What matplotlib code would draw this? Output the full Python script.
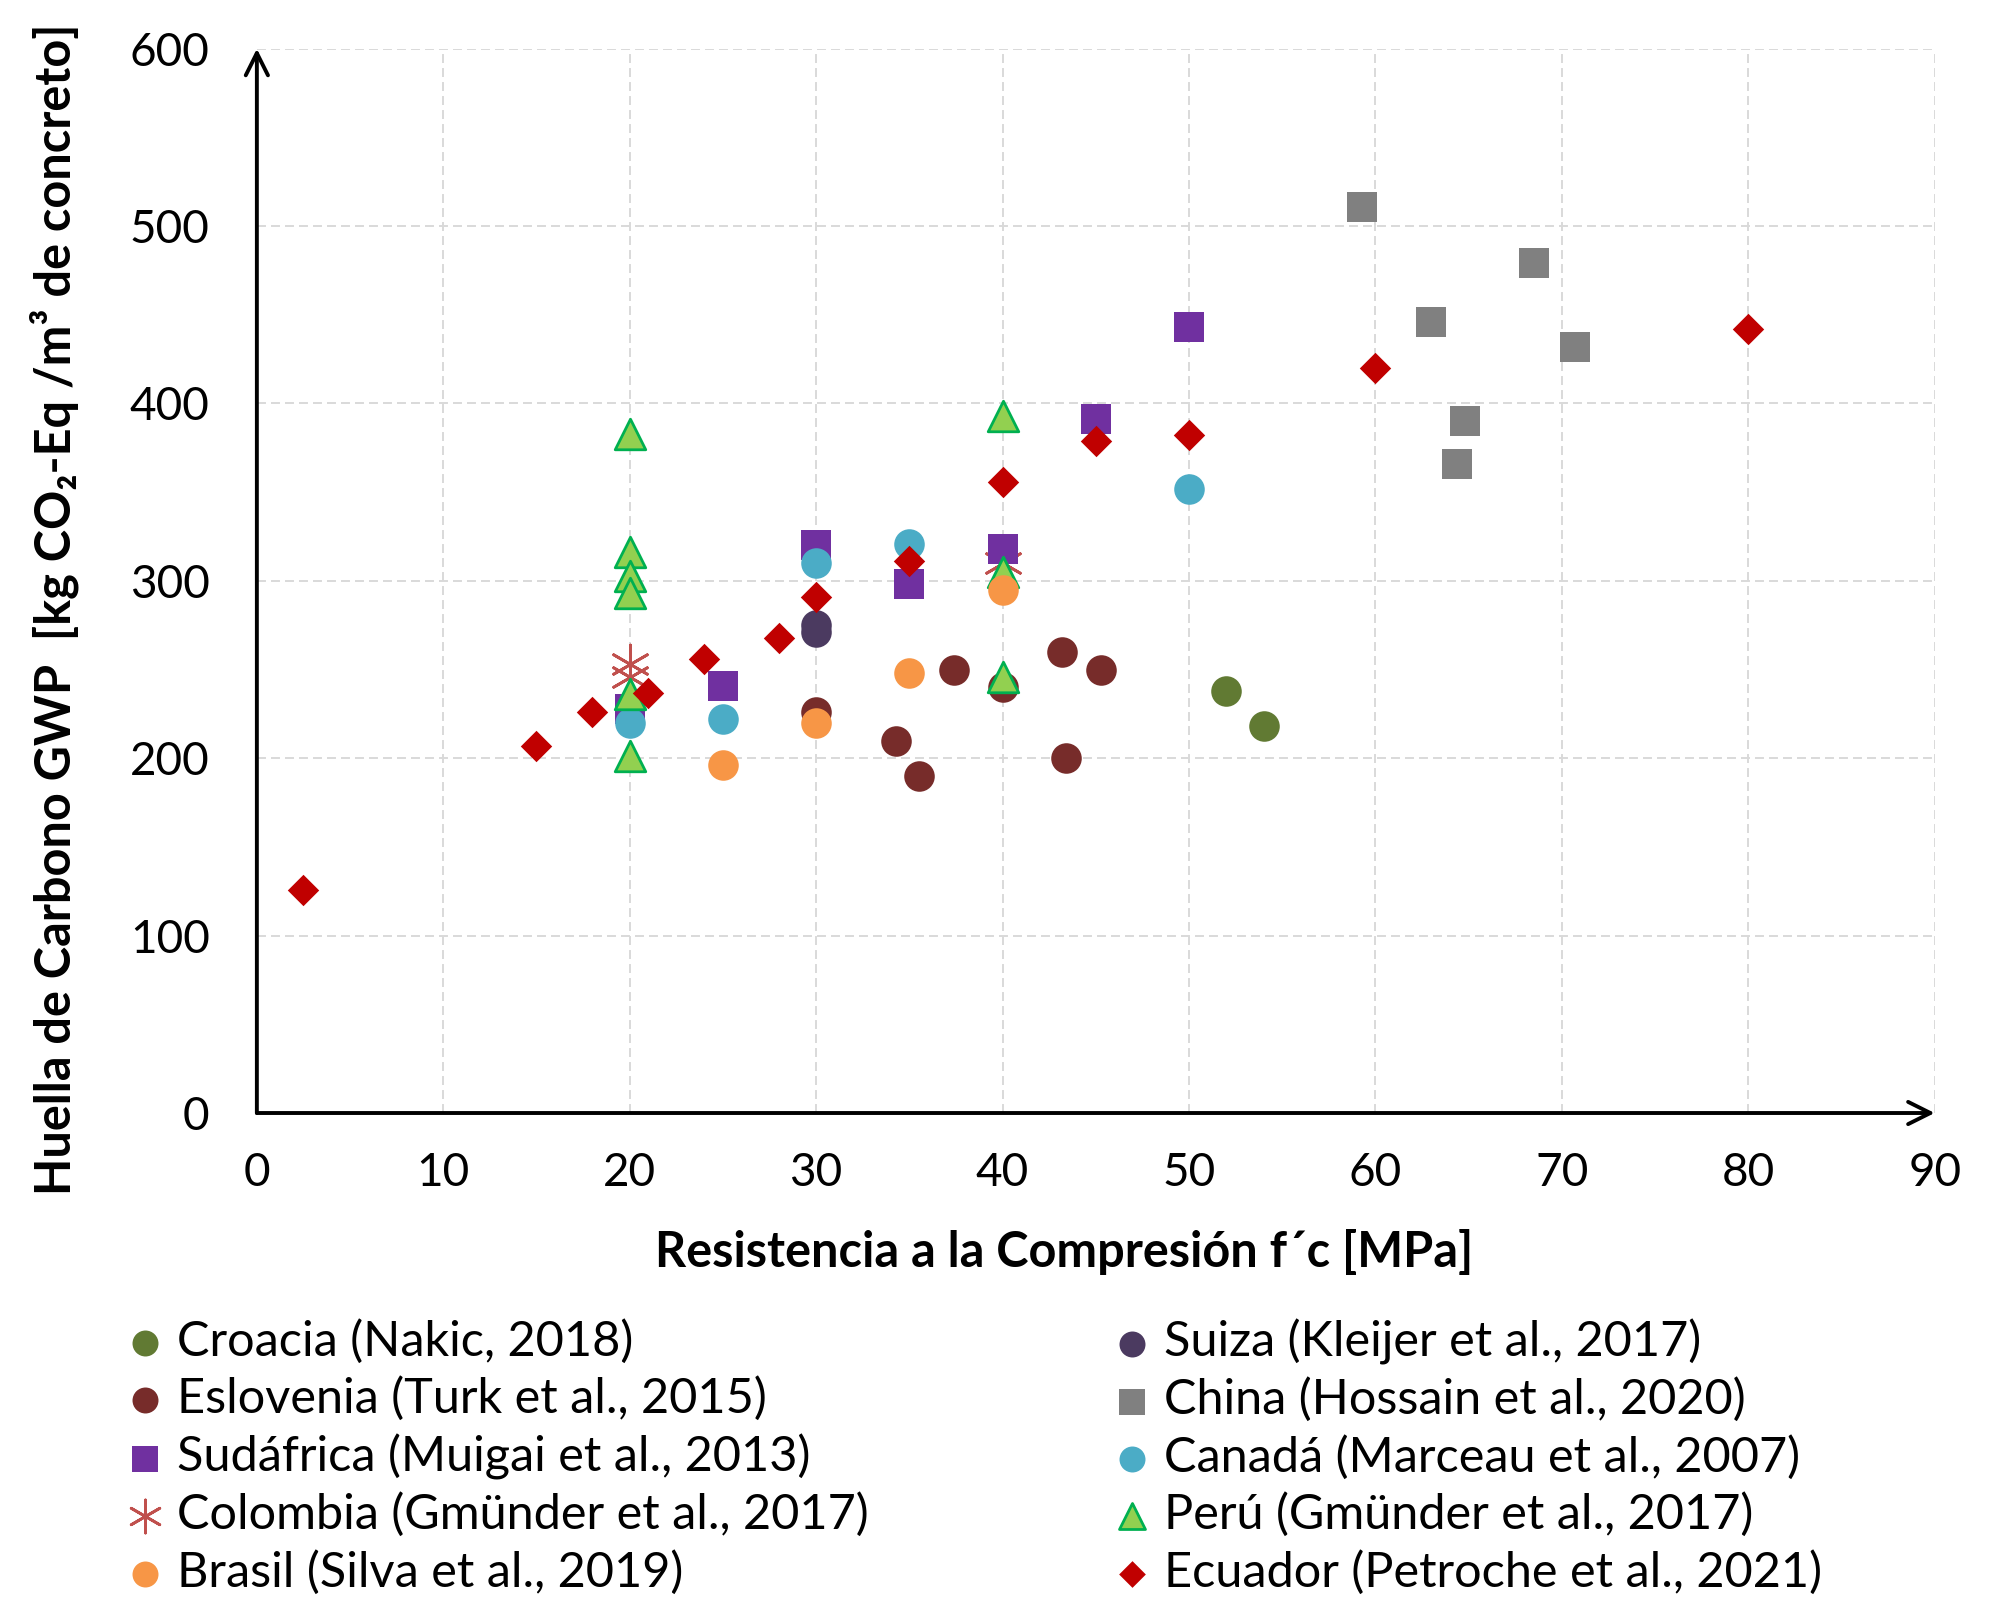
import matplotlib
matplotlib.use("Agg")
import matplotlib.pyplot as plt

plt.rcParams['font.family'] = ['Lato', 'DejaVu Sans']

# data: x = f'c [MPa], y = GWP [kg CO2-Eq/m3]
croacia_x = [52, 54]
croacia_y = [238, 218]
suiza_x = [30, 30]
suiza_y = [275, 271]
eslovenia_x = [30, 34.3, 35.5, 37.4, 40, 43.2, 45.3, 43.4]
eslovenia_y = [226, 210, 190, 250, 240, 260, 250, 200]
china_x = [59.3, 68.5, 63, 70.7, 64.8, 64.4]
china_y = [511, 479, 446, 432, 390, 366]
sudafrica_x = [20, 25, 30, 35, 40, 45, 50]
sudafrica_y = [228, 241, 320, 298, 318, 391, 443]
canada_x = [20, 25, 30, 35, 50]
canada_y = [220, 222, 310, 321, 352]
colombia_x = [20, 20, 40]
colombia_y = [253, 246, 310]
peru_x = [20, 20, 20, 20, 20, 20, 40, 40, 40]
peru_y = [383, 316, 303, 293, 236, 201, 393, 305, 246]
brasil_x = [25, 30, 35, 40]
brasil_y = [196, 220, 248, 295]
ecuador_x = [2.5, 15, 18, 21, 24, 28, 30, 35, 40, 45, 50, 60, 80]
ecuador_y = [126, 207, 226, 237, 256, 268, 291, 311, 356, 379, 382, 420, 442]

labels = ["Croacia (Nakic, 2018)", "Eslovenia (Turk et al., 2015)",
          "Sudáfrica (Muigai et al., 2013)", "Colombia (Gmünder et al., 2017)",
          "Brasil (Silva et al., 2019)", "Suiza (Kleijer et al., 2017)",
          "China (Hossain et al., 2020)", "Canadá (Marceau et al., 2007)",
          "Perú (Gmünder et al., 2017)", "Ecuador (Petroche et al., 2021)"]

TICK_FS = 33
LAB_FS = 35
LEG_FS = 35
fig = plt.figure(figsize=(20.13, 15.98), dpi=100)
ax = fig.add_axes([0.1276, 0.3035, 0.8335, 0.666])

h = {}
# drawing order (later = on top)
h["col"] = ax.scatter(colombia_x, colombia_y, marker=(6, 2, 0), s=28**2, c="#C0504D", linewidths=2, zorder=3)
h["cro"] = ax.scatter(croacia_x, croacia_y, marker="o", s=22**2, c="#617A33", linewidths=0, zorder=4)
h["sui"] = ax.scatter(suiza_x, suiza_y, marker="o", s=22**2, c="#4B3A60", linewidths=0, zorder=4)
h["esl"] = ax.scatter(eslovenia_x, eslovenia_y, marker="o", s=22**2, c="#772C2A", linewidths=0, zorder=4)
h["chi"] = ax.scatter(china_x, china_y, marker="s", s=22**2, c="#808080", linewidths=0, zorder=4)
h["sud"] = ax.scatter(sudafrica_x, sudafrica_y, marker="s", s=22**2, c="#7030A0", linewidths=0, zorder=4)
h["can"] = ax.scatter(canada_x, canada_y, marker="o", s=22**2, c="#4BACC6", linewidths=0, zorder=4)
h["per"] = ax.scatter(peru_x, peru_y, marker="^", s=22**2, c="#92D050", edgecolors="#00B050", linewidths=2, zorder=4)
h["bra"] = ax.scatter(brasil_x, brasil_y, marker="o", s=22**2, c="#F79646", linewidths=0, zorder=4)
h["ecu"] = ax.scatter(ecuador_x, ecuador_y, marker="D", s=16**2, c="#C00000", linewidths=0, zorder=5)

ax.set_xlim(0, 90)
ax.set_ylim(0, 600)
ax.set_xticks(range(0, 91, 10))
ax.set_yticks(range(0, 601, 100))
ax.tick_params(length=0, labelsize=TICK_FS)
ax.tick_params(axis="y", pad=34)
ax.tick_params(axis="x", pad=28)
ax.grid(True, color="#D9D9D9", lw=1.4, linestyle=(0, (4.6, 2.6)))
ax.set_axisbelow(True)
for s in ax.spines.values():
    s.set_visible(False)

for tip in [(1, 0), (0, 1)]:
    ax.annotate("", xy=tip, xytext=(0, 0), xycoords="axes fraction",
                arrowprops=dict(arrowstyle="->", lw=2.8, color="black", mutation_scale=40,
                                shrinkA=0, shrinkB=0), annotation_clip=False)

ax.set_xlabel("Resistencia a la Compresión f´c [MPa]", fontsize=LAB_FS, fontweight="bold")
ax.xaxis.set_label_coords(0.481, -0.1448)
ax.xaxis.label.set_va("baseline")
ax.set_ylabel("Huella de Carbono GWP  [kg CO₂-Eq /m³ de concreto]", fontsize=LAB_FS, fontweight="bold")
ax.yaxis.set_label_coords(-0.121, 0.473)
ax.yaxis.label.set_va("center")

order_left = ["cro", "esl", "sud", "col", "bra"]
order_right = ["sui", "chi", "can", "per", "ecu"]
kw = dict(loc="upper left", frameon=False, fontsize=LEG_FS, handletextpad=0.05,
          labelspacing=0.26, borderpad=0, handlelength=1.2, markerscale=0.85)
fig.legend([h[k] for k in order_left], labels[:5], bbox_to_anchor=(0.0457, 0.19), **kw)
fig.legend([h[k] for k in order_right], labels[5:], bbox_to_anchor=(0.536, 0.19), **kw)

fig.savefig("out.png", dpi=100)
